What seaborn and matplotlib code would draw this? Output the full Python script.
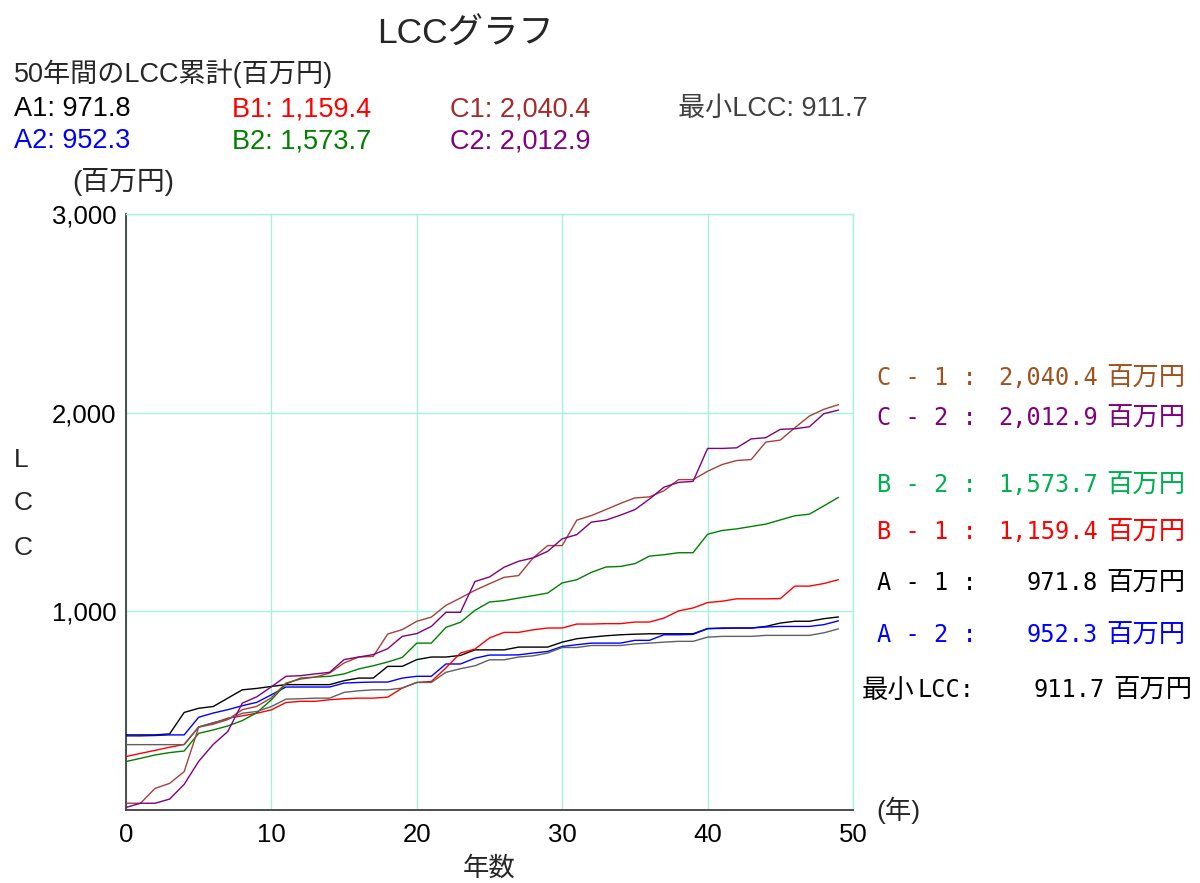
import matplotlib
matplotlib.use("Agg")
import matplotlib.pyplot as plt
from matplotlib import font_manager
import numpy as np
import pandas as pd
import seaborn as sns

# ---------------- data ----------------
years = list(range(50))
series_names = ["A1", "A2", "B1", "B2", "C1", "C2", "最小LCC"]

a1 = [378, 378, 378, 383, 491, 512, 521, 563, 605, 612, 622, 631, 631, 631, 631, 651, 664, 664, 723, 723,
      757, 770, 770, 778, 806, 806, 806, 820, 820, 820, 845, 862, 870, 877, 882, 885, 887, 887, 887, 887,
      913, 916, 916, 916, 924, 941, 950, 950, 963, 971.8]
a2 = [373, 373, 375, 378, 378, 467, 488, 505, 525, 542, 580, 619, 619, 619, 619, 639, 642, 644, 644, 664,
      673, 673, 735, 735, 764, 780, 780, 781, 790, 798, 823, 832, 840, 840, 840, 854, 854, 882, 882, 884,
      913, 914, 916, 916, 921, 924, 924, 924, 933, 952.3]
b1 = [269, 285, 300, 316, 330, 418, 437, 462, 474, 487, 504, 541, 547, 547, 555, 560, 563, 563, 568, 614,
      642, 647, 715, 790, 810, 866, 894, 894, 907, 916, 916, 936, 936, 938, 938, 946, 946, 966, 1002, 1017,
      1044, 1051, 1063, 1063, 1063, 1064, 1127, 1127, 1140, 1159.4]
b2 = [244, 260, 277, 289, 297, 386, 403, 423, 450, 490, 555, 634, 664, 669, 673, 685, 710, 726, 745, 768,
      840, 840, 919, 945, 1005, 1047, 1054, 1067, 1079, 1092, 1143, 1159, 1196, 1223, 1226, 1240, 1278, 1285, 1295, 1295,
      1388, 1407, 1415, 1427, 1439, 1460, 1481, 1489, 1531, 1573.7]
c1 = [34, 34, 109, 134, 193, 417, 432, 455, 505, 522, 565, 639, 659, 669, 689, 740, 770, 773, 886, 908,
      950, 971, 1030, 1067, 1106, 1139, 1171, 1180, 1269, 1331, 1331, 1459, 1482, 1512, 1543, 1571, 1576, 1607, 1663, 1663,
      1705, 1739, 1759, 1764, 1852, 1862, 1924, 1983, 2017, 2040.4]
c2 = [13, 34, 34, 55, 129, 245, 330, 395, 538, 570, 620, 673, 676, 685, 693, 757, 770, 782, 812, 874,
      888, 924, 995, 995, 1150, 1173, 1222, 1252, 1269, 1302, 1365, 1386, 1449, 1459, 1484, 1512, 1565, 1625, 1649, 1654,
      1820, 1820, 1823, 1868, 1874, 1916, 1919, 1929, 1995, 2012.9]
min_lcc = [329, 329, 329, 329, 329, 418, 440, 457, 487, 496, 521, 558, 560, 563, 563, 592, 600, 605, 605, 614,
           642, 642, 693, 711, 726, 756, 756, 770, 776, 790, 818, 818, 828, 828, 828, 836, 840, 845, 849, 849,
           870, 874, 874, 874, 879, 879, 879, 879, 892, 911.7]

totals = {"A1": 971.8, "A2": 952.3, "B1": 1159.4, "B2": 1573.7, "C1": 2040.4, "C2": 2012.9, "最小LCC": 911.7}
x_ticks = [0, 10, 20, 30, 40, 50]
y_ticks = [1000, 2000, 3000]

# ---------------- style ----------------
sns.set_theme(style="white")
names = {f.name for f in font_manager.fontManager.ttflist}
latin = "Liberation Sans" if "Liberation Sans" in names else "DejaVu Sans"
cjk = "Noto Sans CJK JP"
mono = "DejaVu Sans Mono"
plt.rcParams["font.family"] = [latin, cjk, "DejaVu Sans"]

line_colors = {"A1": "#000000", "A2": "#0000FF", "B1": "#FF0000", "B2": "#008000",
               "C1": "#A5403C", "C2": "#800080", "最小LCC": "#606060"}
grid_color = "#A6F3DC"

df = pd.DataFrame({"年": years * 7,
                   "LCC": a1 + a2 + b1 + b2 + c1 + c2 + min_lcc,
                   "系列": sum([[n] * len(years) for n in series_names], [])})

fig = plt.figure(figsize=(12, 8.83), dpi=100)
ax = fig.add_axes([126 / 1200, 1 - 810 / 883, (853 - 126) / 1200, (810 - 214) / 883])

sns.lineplot(data=df, x="年", y="LCC", hue="系列", hue_order=series_names,
             palette=line_colors, linewidth=1.0, legend=False, ax=ax, zorder=3)

ax.set_xlim(0, 50)
ax.set_ylim(0, 3000)
ax.set_xticks(x_ticks)
ax.set_xticklabels([str(t) for t in x_ticks])
ax.set_yticks(y_ticks)
ax.set_yticklabels([f"{t:,}" for t in y_ticks])
ax.tick_params(axis="both", length=0, labelsize=18.5, colors="black")
ax.tick_params(axis="x", pad=9)
ax.tick_params(axis="y", pad=7)
ax.grid(True, color=grid_color, linewidth=1.0, zorder=0)
ax.set_xlabel("")
ax.set_ylabel("")
for s in ["left", "bottom"]:
    ax.spines[s].set_color("#404040")
    ax.spines[s].set_linewidth(1.3)
for s in ["top", "right"]:
    ax.spines[s].set_color(grid_color)
    ax.spines[s].set_linewidth(1.0)


def fx(px):
    return px / 1200


def fy(py):
    return 1 - py / 883


# title & header
fig.text(fx(465), fy(34), "LCCグラフ", fontsize=25.5, ha="center", va="center")
fig.text(fx(14), fy(74), "50年間のLCC累計(百万円)", fontsize=19.5, ha="left", va="center")
hdr = [("A1", 14, 109, "#000000"), ("B1", 232, 109, "#FF0000"), ("C1", 450, 109, "#A52A2A"),
       ("最小LCC", 678, 109, "#404040"),
       ("A2", 14, 141, "#0000FF"), ("B2", 232, 141, "#008000"), ("C2", 450, 141, "#800080")]
for key, x, y, col in hdr:
    fig.text(fx(x), fy(y), f"{key}: {totals[key]:,.1f}", fontsize=19.5, ha="left", va="center", color=col)

fig.text(fx(72), fy(182), "(百万円)", fontsize=20, ha="left", va="center")
for ch, y in zip(["L", "C", "C"], [460, 503, 548]):
    fig.text(fx(14), fy(y), ch, fontsize=19, ha="left", va="center")
fig.text(fx(489), fy(868), "年数", fontsize=19, ha="center", va="center")
fig.text(fx(876), fy(810), "(年)", fontsize=19, ha="left", va="center")

# right-side summary
right = [("C - 1 :", "C1", 378, "#A0521E"), ("C - 2 :", "C2", 418, "#800080"),
         ("B - 2 :", "B2", 485, "#00B050"), ("B - 1 :", "B1", 532, "#FF0000"),
         ("A - 1 :", "A1", 583, "#000000"), ("A - 2 :", "A2", 635, "#0000FF")]
for lab, key, y, col in right:
    fig.text(fx(877), fy(y), lab, fontsize=17, family=[mono, cjk], ha="left", va="center", color=col)
    fig.text(fx(1098), fy(y), f"{totals[key]:,.1f}", fontsize=17, family=[mono, cjk],
             ha="right", va="center", color=col)
    fig.text(fx(1106), fy(y), "百万円", fontsize=19, family=[cjk], ha="left", va="center", color=col)
fig.text(fx(862), fy(690), "最小", fontsize=19, family=[cjk], ha="left", va="center", color="#000000")
fig.text(fx(918), fy(690), "LCC:", fontsize=17, family=[mono, cjk], ha="left", va="center", color="#000000")
fig.text(fx(1105), fy(690), f"{totals['最小LCC']:,.1f}", fontsize=17, family=[mono, cjk],
         ha="right", va="center", color="#000000")
fig.text(fx(1113), fy(690), "百万円", fontsize=19, family=[cjk], ha="left", va="center", color="#000000")

fig.savefig("out.png", dpi=100, facecolor="white")
